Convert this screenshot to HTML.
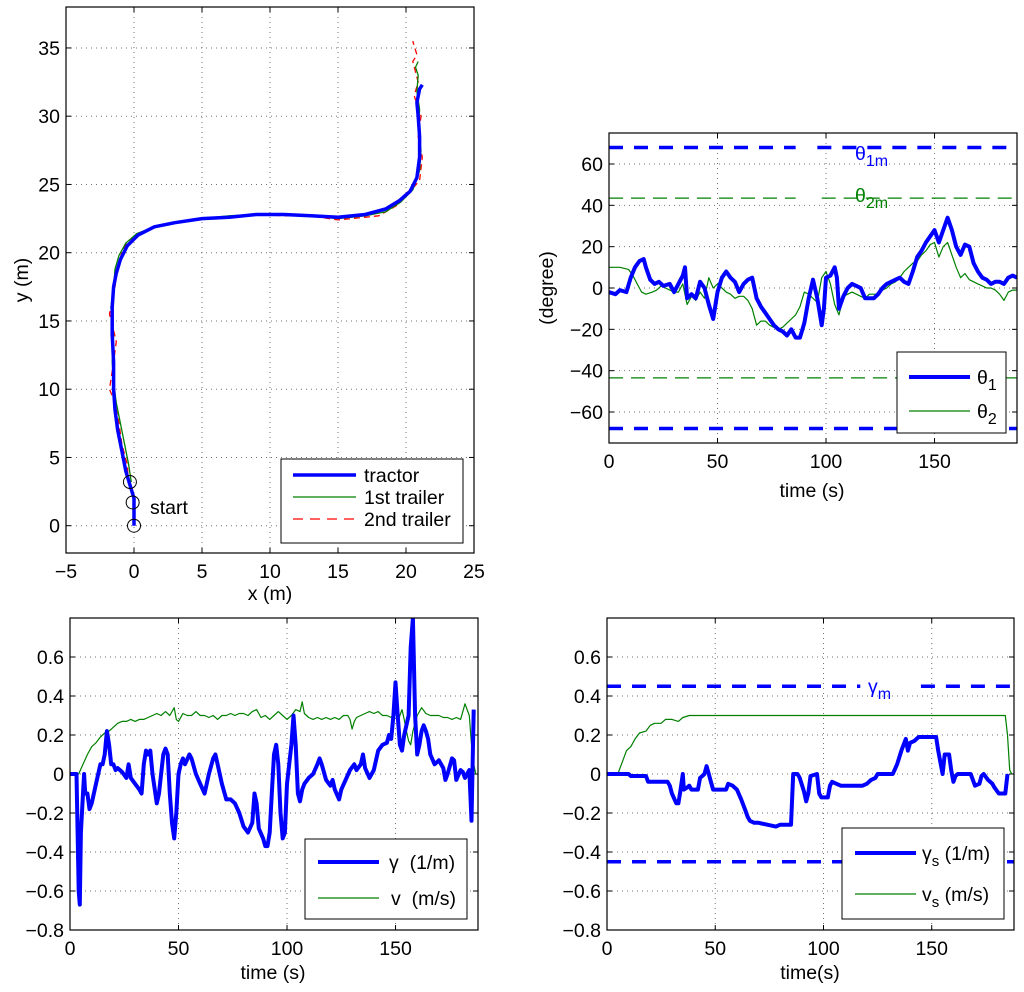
<!DOCTYPE html>
<html><head><meta charset="utf-8">
<style>
html,body{margin:0;padding:0;background:#fff;}
svg{display:block;font-family:"Liberation Sans",sans-serif;}
</style></head>
<body>
<svg id="fig" width="1024" height="992" viewBox="0 0 1024 992" xmlns="http://www.w3.org/2000/svg"></svg>
<script>
// ---------- data ----------
const trXs=[0,0,0,-0.3,-0.6,-0.9,-1.2,-1.4,-1.5,-1.5,-1.6,-1.6,-1.5,-1.3,-1,-0.5,0.3,1.5,3,5,7,9,11,13,15,17,18.5,19.5,20.3,20.8,21,21,20.9,20.8,21,21.2];
const trYs=[0,1,2,3,4,5.5,7,8.5,10,12,14,16,17.5,18.5,19.5,20.5,21.3,21.9,22.2,22.5,22.6,22.8,22.8,22.7,22.6,22.8,23.2,23.8,24.5,25.5,27,28.5,30,31,32,32.3];
const t1Xs=[-0.2,-0.4,-0.7,-1,-1.3,-1.5,-1.6,-1.5,-1.7,-1.5,-1.4,-1.1,-0.6,0.2,1.5,3,5,7,9,11,13,15,17,18.5,19.6,20.5,21,21.1,20.9,21,20.8,20.9,20.7,20.9];
const t1Ys=[3.2,4.5,6,7.5,9,10.5,12,14,16,17.5,18.8,19.8,20.7,21.4,21.9,22.2,22.5,22.7,22.8,22.8,22.7,22.5,22.7,23,23.7,24.6,26,27.5,29,30.5,31.8,33,33.6,34];
const t2Xs=[-0.4,-0.5,-0.9,-1.1,-1.4,-1.8,-1.5,-1.3,-1.8,-1.4,-1.2,-0.9,-0.5,0.3,1.6,3,5,7,9,11,13,15,17,18,19.4,20.3,21,21.2,20.9,21.1,20.6,20.9,20.5,20.8,20.5];
const t2Ys=[3.1,4.5,6,7.5,9,10,12,13.5,15.5,17.5,19,20,20.8,21.4,21.9,22.2,22.5,22.6,22.8,22.7,22.7,22.4,22.6,22.7,23.5,24.5,25.3,27,28.5,30,31.5,32.5,34,34.5,35.5];
const circleXs=[0,-0.1,-0.3];
const circleYs=[0,1.7,3.2];
const trajXTicks=[-5,0,5,10,15,20,25];
const trajYTicks=[0,5,10,15,20,25,30,35];

const thT=[0,3,5,8,10,12,14,16,17,19,21,23,25,28,30,32,34,35,36,38,40,42,44,46,48,50,52,54,56,58,60,62,64,66,68,70,72,74,76,78,80,82,84,86,88,90,92,94,96,98,99,100,102,104,105,106,108,110,112,114,116,118,120,122,124,126,128,130,132,134,136,138,140,142,144,146,148,150,152,154,156,158,160,162,164,166,168,170,172,174,176,178,180,182,184,186,188];
const theta1=[-2,-3,-1,-2,5,10,13,14,10,4,2,3,1,2,-2,2,6,10,-5,-3,-5,3,0,-8,-15,-2,5,8,5,3,-2,2,4,5,-5,-9,-12,-15,-18,-20,-21,-23,-20,-24,-24,-17,-5,4,-5,-18,-10,5,6,10,5,-10,-4,0,2,1,0,-5,-5,-5,-3,0,2,3,4,5,3,2,8,15,18,22,25,28,22,28,34,28,20,16,21,20,12,8,5,4,2,3,3,2,5,6,5];
const th2T=[0,5,9,11,13,15,17,20,22,24,26,28,30,32,34,36,38,40,42,44,46,48,50,52,54,56,58,60,62,64,66,68,70,72,74,76,78,80,82,84,86,88,90,92,94,96,98,100,102,104,106,108,110,112,114,116,118,120,124,126,128,130,132,134,136,138,140,142,144,146,148,150,152,154,156,158,160,162,164,166,168,170,172,174,176,178,180,182,184,186,188];
const theta2=[10,10,9,6,2,-2,-3,-2,-1,1,0,-1,-2,-2,2,-8,-4,-6,-2,-5,5,0,2,0,-2,-3,-5,-4,-4,-6,-10,-18,-16,-16,-18,-19,-20,-19,-17,-15,-13,-9,-2,-3,-5,-7,5,8,2,-8,-13,-4,-3,-2,-3,-4,-5,-3,-3,-1,0,2,3,5,8,10,12,13,16,18,21,22,15,20,22,16,10,5,7,4,3,2,1,0,0,-1,-3,-6,-2,-1,-1];
const thetaTicks=[-60,-40,-20,0,20,40,60];
const timeTicks=[0,50,100,150];

const gT=[0,3,4,4.5,5,6,6.5,7,8,9,10,12,13,14,15,16,17,18,19,20,21,22,24,26,27,28,30,32,33,34,35,36,37,38,40,41,42,43,44,45,46,47,48,49,50,51,52,53,55,56,58,60,62,64,66,67,68,70,72,74,76,78,80,82,84,85,86,87,89,90,91,92,93,94,95,96,97,98,99,100,102,103,104,105,106,107,108,110,112,114,115,116,118,120,121,122,124,125,127,129,131,132,134,135,136,138,140,142,144,146,147,148,149,150,151,152,153,154,155,156,157,158,159,160,161,162,163,164,165,166,168,170,172,173,174,176,177,178,180,181,182,184,185,186];
const gamma=[0,0,-0.6,-0.67,-0.3,-0.1,0,-0.1,-0.1,-0.18,-0.15,-0.05,0,0.05,0.05,0.1,0.22,0.15,0.05,0.05,0.02,0.03,0.01,-0.02,0.05,-0.02,-0.05,-0.08,-0.1,0.05,0.12,0.1,0.12,0,-0.15,-0.1,0,0.1,0.13,0.1,-0.1,-0.25,-0.33,-0.2,0,0.05,0.08,0.05,0.1,0.08,0,-0.05,-0.1,0,0.08,0.1,0.05,-0.05,-0.13,-0.13,-0.15,-0.2,-0.27,-0.3,-0.25,-0.1,-0.15,-0.28,-0.33,-0.37,-0.37,-0.3,-0.1,0.1,0.15,0.05,-0.2,-0.33,-0.3,-0.05,0.15,0.3,0.15,-0.1,-0.14,-0.08,-0.05,-0.02,0,0.05,0.08,0.05,-0.03,-0.06,-0.03,-0.08,-0.13,-0.08,-0.03,0.02,0.05,0.02,0.05,0.1,0.03,-0.02,0.02,0.12,0.15,0.16,0.2,0.18,0.3,0.47,0.3,0.15,0.12,0.2,0.25,0.3,0.65,0.8,0.3,0.1,0.15,0.22,0.25,0.22,0.18,0.1,0.05,0.07,0.03,-0.03,0,0.08,0.07,-0.03,0.02,0.01,-0.02,0.02,-0.24,0.33];
const vT=[0,4,6,8,10,12,14,16,18,20,22,24,26,28,30,32,34,36,38,40,42,44,46,48,49,50,52,54,56,58,60,62,64,66,68,70,72,74,76,78,80,82,84,86,88,90,92,94,96,98,100,102,104,106,107,108,110,112,114,116,118,120,122,124,126,128,129,130,131,132,134,136,138,140,142,144,146,148,150,151,152,153,154,155,156,157,158,160,162,164,166,168,170,172,174,176,178,180,182,184,185,186,187];
const vel=[0,0,0.05,0.1,0.14,0.16,0.19,0.21,0.22,0.24,0.26,0.27,0.27,0.28,0.27,0.28,0.28,0.29,0.3,0.31,0.3,0.32,0.3,0.34,0.28,0.27,0.31,0.3,0.3,0.32,0.3,0.3,0.29,0.3,0.28,0.3,0.3,0.31,0.3,0.31,0.31,0.3,0.32,0.33,0.29,0.3,0.28,0.3,0.32,0.3,0.28,0.3,0.33,0.32,0.37,0.31,0.29,0.28,0.29,0.28,0.29,0.28,0.29,0.28,0.3,0.3,0.28,0.23,0.27,0.29,0.3,0.31,0.32,0.31,0.32,0.3,0.3,0.29,0.33,0.27,0.3,0.33,0.28,0.22,0.17,0.15,0.22,0.3,0.34,0.31,0.3,0.3,0.3,0.29,0.29,0.28,0.29,0.28,0.36,0.3,0.15,0.05,0];

const gsT=[0,10,11,18,19,28,29,30,32,33,34,35,35.5,37,38,39,42,43,44,45,46,47,48,49,55,56,58,60,62,64,65,66,68,70,74,78,80,85,86,88,89,91,92,93,94,97,98,99,102,103,104,106,108,118,120,122,124,125,132,134,136,138,139,140,142,144,152,153,155,156,158,159,160,161,162,168,169,170,172,173,174,176,178,179,181,184,185];
const gammaS=[0,0,-0.01,-0.01,-0.04,-0.04,-0.06,-0.1,-0.15,-0.15,-0.08,0,-0.08,-0.07,-0.06,-0.08,-0.08,-0.02,-0.01,0,0.04,0,-0.04,-0.08,-0.08,-0.05,-0.06,-0.08,-0.13,-0.19,-0.22,-0.24,-0.25,-0.25,-0.26,-0.27,-0.26,-0.26,0,0,-0.02,-0.09,-0.14,-0.1,-0.01,0,-0.1,-0.12,-0.12,-0.06,-0.04,-0.05,-0.06,-0.06,-0.05,-0.03,-0.02,0,0,0.05,0.12,0.18,0.12,0.16,0.17,0.19,0.19,0.12,0,0.1,0.1,0.02,-0.04,-0.01,0,0,-0.03,-0.06,-0.05,-0.01,0,-0.03,-0.05,-0.07,-0.1,-0.1,0];
const vsT=[0,5,7,9,11,13,15,18,20,22,25,27,30,33,35,38,184,185,186,187];
const velS=[0,0,0.06,0.12,0.14,0.18,0.21,0.22,0.25,0.26,0.26,0.28,0.28,0.27,0.29,0.3,0.3,0.2,0.02,0];
const ctrlTicks=[-0.8,-0.6,-0.4,-0.2,0,0.2,0.4,0.6];

// ---------- helpers ----------
const NS='http://www.w3.org/2000/svg';
const svg=document.getElementById('fig');
function mk(tag,attrs,parent){const e=document.createElementNS(NS,tag);for(const k in attrs)e.setAttribute(k,attrs[k]);(parent||svg).appendChild(e);return e;}
function lin(d0,d1,r0,r1){return v=>r0+(v-d0)*(r1-r0)/(d1-d0);}
function fmt(v){return v<0?'\u2212'+String(-v):String(v);}

function axes(name,x0,y0,x1,y1,xd,yd,xt,yt){
  const g=mk('g',{});
  
  
  const sx=lin(xd[0],xd[1],x0,x1), sy=lin(yd[0],yd[1],y1,y0);
  const grid=mk('g',{stroke:'#000','stroke-width':1,'stroke-dasharray':'1 4',opacity:0.55},g);
  
  
  xt.forEach(v=>{const x=sx(v);if(x>x0+1&&x<x1-1)mk('line',{x1:x,y1:y0,x2:x,y2:y1},grid);});
  yt.forEach(v=>{const y=sy(v);if(y>y0+1&&y<y1-1)mk('line',{x1:x0,y1:y,x2:x1,y2:y},grid);});
  xt.forEach(v=>{const x=sx(v);
    mk('line',{x1:x,y1:y1,x2:x,y2:y1-5,stroke:'#000'},g);mk('line',{x1:x,y1:y0,x2:x,y2:y0+5,stroke:'#000'},g);
    const t=mk('text',{x:x,y:y1+25,'text-anchor':'middle','font-size':19.5},g);t.textContent=fmt(v);
    
    });
  yt.forEach(v=>{const y=sy(v);
    mk('line',{x1:x0,y1:y,x2:x0+5,y2:y,stroke:'#000'},g);mk('line',{x1:x1,y1:y,x2:x1-5,y2:y,stroke:'#000'},g);
    const t=mk('text',{x:x0-6,y:y+7,'text-anchor':'end','font-size':19.5},g);t.textContent=fmt(v);
    
    });
  const clipId='c'+name;
  const cp=mk('clipPath',{id:clipId},g);mk('rect',{x:x0,y:y0,width:x1-x0,height:y1-y0},cp);
  const plot=mk('g',{'clip-path':'url(#'+clipId+')'},g);
  return {g,sx,sy,plot,box:()=>mk('rect',{x:x0,y:y0,width:x1-x0,height:y1-y0,fill:'none',stroke:'#000','stroke-width':1.2},g)};
}
function series(ax,xs,ys,style,name){
  const d=xs.map((x,i)=>(i?'L':'M')+ax.sx(x).toFixed(1)+' '+ax.sy(ys[i]).toFixed(1)).join('');
  const p=mk('path',Object.assign({d:d,fill:'none','stroke-linejoin':'round'},style),ax.plot);
  
  
  return p;
}
function hline(ax,v,style,name,gap){
  const x0=ax.sx(0),x1=ax.sx(188);
  const segs=gap?[[x0,gap[0]],[gap[1],x1]]:[[x0,x1]];
  segs.forEach(s=>{const l=mk('line',Object.assign({x1:s[0],x2:s[1],y1:ax.sy(v),y2:ax.sy(v)},style),ax.plot);
    
    });
}
function text(x,y,str,attrs,name){const t=mk('text',Object.assign({x:x,y:y},attrs));t.innerHTML=str;
  
  return t;}
function legend(name,x,y,w,h,items){
  const g=mk('g',{});
  
  
  mk('rect',{x:x,y:y,width:w,height:h,fill:'#fff',stroke:'#000','stroke-width':1},g);
  items.forEach(it=>{
    mk('line',Object.assign({x1:x+it.lx0,x2:x+it.lx1,y1:y+it.dy,y2:y+it.dy},it.style),g);
    const t=mk('text',{x:x+it.tx,y:y+it.dy+7,'font-size':19.5},g);t.innerHTML=it.label;
    
    
  });
}
const BLUE='#0000ff',GREEN='#008000',RED='#ff0000';
const thick={stroke:BLUE,'stroke-width':4};
const thin={stroke:GREEN,'stroke-width':1.2};

// ---------- trajectory ----------
const a1=axes('trajectory-plot',66,7,474,553,[-5,25],[-2,38],trajXTicks,trajYTicks);
series(a1,t2Xs,t2Ys,{stroke:RED,'stroke-width':1.3,'stroke-dasharray':'6 4'},'second-trailer-line');
series(a1,t1Xs,t1Ys,{stroke:GREEN,'stroke-width':1.3},'first-trailer-line');
series(a1,trXs,trYs,{stroke:BLUE,'stroke-width':3.5},'tractor-line');
circleXs.forEach((cx,i)=>{const c=mk('circle',{cx:a1.sx(cx),cy:a1.sy(circleYs[i]),r:6.5,fill:'none',stroke:'#000','stroke-width':1},a1.plot);
  
  });
a1.box();
text(150,514,'start',{'font-size':19.5},'start-label');
text(270,600,'x (m)',{'font-size':19.5,'text-anchor':'middle'},'x-axis-title');
text(28,280,'y (m)',{'font-size':19.5,'text-anchor':'middle',transform:'rotate(-90 28 280)'},'y-axis-title');
legend('trajectory-legend',281,459,182,84,[
 {lx0:12,lx1:75,dy:16,style:{stroke:BLUE,'stroke-width':3.5},tx:83,label:'tractor'},
 {lx0:12,lx1:75,dy:38,style:{stroke:GREEN,'stroke-width':1.3},tx:83,label:'1st trailer'},
 {lx0:12,lx1:75,dy:60,style:{stroke:RED,'stroke-width':1.3,'stroke-dasharray':'10 7'},tx:83,label:'2nd trailer'}]);

// ---------- angles ----------
const a2=axes('angle-plot',609,133,1017,443,[0,188],[-75,75],timeTicks,thetaTicks);
hline(a2,68,{stroke:BLUE,'stroke-width':3.5,'stroke-dasharray':'14 11'},'theta1-max-line',[a2.sx(86),a2.sx(96)]);
hline(a2,-68,{stroke:BLUE,'stroke-width':3.5,'stroke-dasharray':'14 11'},'theta1-min-line');
hline(a2,43.5,{stroke:GREEN,'stroke-width':1.2,'stroke-dasharray':'14 8'},'theta2-max-line',[a2.sx(86),a2.sx(98)]);
hline(a2,-43.5,{stroke:GREEN,'stroke-width':1.2,'stroke-dasharray':'14 8'},'theta2-min-line');
series(a2,th2T,theta2,thin,'theta2-line');
series(a2,thT,theta1,thick,'theta1-line');
a2.box();
text(855,160,'θ<tspan font-size="16" dy="6">1m</tspan>',{'font-size':19.5,fill:BLUE},'theta1m-label');
text(855,202,'θ<tspan font-size="16" dy="6">2m</tspan>',{'font-size':19.5,fill:GREEN},'theta2m-label');
text(812,497,'time (s)',{'font-size':19.5,'text-anchor':'middle'},'x-axis-title');
text(553,288,'(degree)',{'font-size':19.5,'text-anchor':'middle',transform:'rotate(-90 553 288)'},'y-axis-title');
legend('angle-legend',897,352,109,81,[
 {lx0:12,lx1:73,dy:25,style:{stroke:BLUE,'stroke-width':4},tx:80,label:'θ<tspan font-size="16" dy="6">1</tspan>'},
 {lx0:12,lx1:73,dy:59,style:{stroke:GREEN,'stroke-width':1.2},tx:80,label:'θ<tspan font-size="16" dy="6">2</tspan>'}]);

// ---------- control inputs ----------
const a3=axes('input-plot',70,618,478,930,[0,188],[-0.8,0.8],timeTicks,ctrlTicks);
series(a3,vT,vel,thin,'velocity-line');
series(a3,gT,gamma,thick,'curvature-line');
a3.box();
text(273,979,'time (s)',{'font-size':19.5,'text-anchor':'middle'},'x-axis-title');
legend('input-legend',305,839,162,80,[
 {lx0:13,lx1:74,dy:23,style:{stroke:BLUE,'stroke-width':4},tx:84,label:'γ&#160;&#160;(1/m)'},
 {lx0:13,lx1:74,dy:59,style:{stroke:GREEN,'stroke-width':1.2},tx:86,label:'v&#160;&#160;(m/s)'}]);

// ---------- smoothed inputs ----------
const a4=axes('smoothed-input-plot',607,618,1014,930,[0,188],[-0.8,0.8],timeTicks,ctrlTicks);
hline(a4,0.45,{stroke:BLUE,'stroke-width':3.5,'stroke-dasharray':'14 11'},'gamma-max-line',[a4.sx(117),a4.sx(145)]);
hline(a4,-0.45,{stroke:BLUE,'stroke-width':3.5,'stroke-dasharray':'14 11'},'gamma-min-line');
series(a4,vsT,velS,thin,'velocity-s-line');
series(a4,gsT,gammaS,thick,'curvature-s-line');
a4.box();
text(868,693,'γ<tspan font-size="16" dy="6">m</tspan>',{'font-size':19.5,fill:BLUE},'gamma-m-label');
text(810,979,'time(s)',{'font-size':19.5,'text-anchor':'middle'},'x-axis-title');
legend('smoothed-input-legend',842,828,162,91,[
 {lx0:13,lx1:74,dy:25,style:{stroke:BLUE,'stroke-width':4},tx:80,label:'γ<tspan font-size="15" dy="6">s</tspan><tspan dy="-6"> (1/m)</tspan>'},
 {lx0:13,lx1:74,dy:66,style:{stroke:GREEN,'stroke-width':1.2},tx:80,label:'v<tspan font-size="15" dy="6">s</tspan><tspan dy="-6"> (m/s)</tspan>'}]);
</script>
</body></html>
